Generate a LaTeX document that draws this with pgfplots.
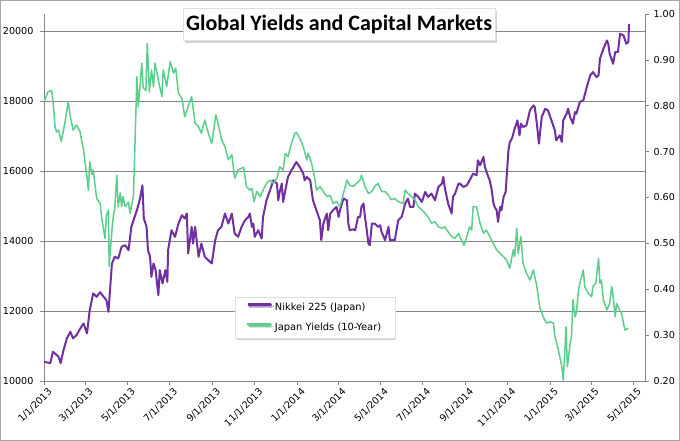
\documentclass[border=0pt]{standalone}
\usepackage{pgfplots}
\usepackage{pgfplotstable}
\pgfplotsset{compat=1.18}
\usepackage{fontspec}
\setmainfont{DejaVu Sans}
\newfontfamily\titlefont{Carlito}
\usetikzlibrary{shadows}
\definecolor{nikkei}{RGB}{112,48,160}
\definecolor{jgb}{RGB}{92,206,140}
\definecolor{axisgray}{RGB}{134,134,134}

\pgfplotstableread{
day val
0 10551
9 10510
13 10837
21 10694
24 10510
28 10870
33 11219
38 11410
42 11219
47 11314
52 11490
57 11648
62 11362
66 12029
71 12505
76 12410
81 12540
86 12410
90 12314
93 11981
98 13362
102 13552
107 13505
112 13838
117 13886
122 13743
126 14410
134 14886
138 15171
142 15600
144 14648
148 14410
150 13743
153 13552
155 12981
158 13362
161 13171
165 12457
167 13171
171 12790
175 13171
178 12838
179 13743
184 14314
189 14124
194 14505
199 14743
203 14648
206 14790
208 13648
213 14410
215 13933
218 14410
223 13552
227 13933
232 13552
237 13457
242 13362
247 14029
251 14314
256 14410
261 14790
266 14505
271 14790
275 14219
280 14124
285 14410
290 14600
295 14695
297 14790
300 14410
302 14505
304 14124
309 14314
314 14076
316 14695
321 15171
326 15457
331 15743
336 15648
338 15171
340 15410
343 15648
345 15124
350 15648
352 15838
357 16029
360 16124
364 16267
369 16124
374 15933
376 15743
379 15838
384 15743
388 15171
393 14886
398 14600
400 14029
403 14505
408 14790
410 14314
413 14790
417 14886
422 14981
425 14695
427 14886
432 15219
437 15171
439 14505
441 14314
446 14340
449 14314
451 14505
453 14695
456 14695
458 14981
461 15076
463 14695
465 14410
468 13933
470 13886
473 14505
477 14505
482 14410
485 14457
487 14267
492 14029
497 14410
499 14029
501 14029
506 14029
511 14600
516 14695
521 15076
525 15219
528 14981
533 14981
535 15362
540 15267
545 15124
550 15410
554 15267
559 15362
564 15171
569 15552
574 15648
576 15838
578 15552
583 15076
588 14790
590 15267
593 15362
598 15648
600 15648
605 15552
610 15600
614 15743
619 15933
624 15886
626 16314
629 16171
634 16410
636 16124
641 15838
643 15743
646 15457
648 15124
650 14981
653 14886
655 14552
658 14981
660 14886
663 15267
666 15410
670 16600
672 16838
675 16933
679 17219
683 17457
686 17029
688 17362
691 17267
696 17314
701 17743
706 17886
708 17838
711 17362
714 16791
718 17552
723 17790
727 17743
732 17457
737 17171
739 16886
744 17029
747 16838
749 17457
754 17648
756 17790
759 17552
763 17362
766 17695
768 17648
773 17981
778 18029
783 18410
788 18743
792 18838
797 18695
800 18743
802 19219
807 19505
812 19743
814 19648
816 19362
821 19076
824 19410
828 19410
831 19933
836 19886
840 19648
843 19695
844 20219
}\nikkeidata

\pgfplotstableread{
day val
0 0.809
6 0.831
11 0.833
13 0.810
16 0.754
18 0.743
21 0.747
25 0.722
30 0.762
35 0.809
38 0.776
42 0.747
47 0.758
52 0.743
57 0.704
62 0.645
64 0.616
66 0.678
69 0.650
71 0.660
76 0.598
81 0.587
83 0.558
88 0.511
90 0.560
93 0.573
94 0.450
98 0.529
100 0.560
102 0.573
105 0.649
107 0.580
110 0.610
112 0.580
114 0.602
117 0.580
122 0.590
124 0.565
129 0.602
131 0.704
134 0.863
136 0.798
138 0.833
141 0.893
143 0.840
147 0.833
149 0.936
152 0.830
155 0.878
158 0.842
160 0.893
165 0.856
170 0.820
172 0.878
177 0.842
182 0.896
187 0.871
190 0.882
194 0.827
199 0.816
203 0.776
208 0.798
213 0.820
218 0.762
223 0.754
227 0.740
232 0.769
237 0.740
242 0.718
248 0.780
251 0.762
256 0.727
261 0.711
266 0.682
271 0.693
275 0.642
280 0.660
288 0.666
292 0.624
297 0.616
300 0.620
303 0.591
307 0.613
312 0.602
316 0.616
321 0.631
326 0.638
331 0.631
336 0.642
340 0.667
345 0.660
348 0.696
352 0.689
357 0.718
362 0.740
364 0.742
369 0.729
374 0.711
379 0.682
381 0.696
386 0.675
391 0.638
393 0.616
398 0.624
403 0.613
408 0.602
413 0.605
417 0.587
422 0.591
427 0.580
432 0.609
437 0.638
441 0.627
446 0.624
451 0.631
456 0.638
458 0.649
463 0.624
468 0.609
473 0.613
477 0.624
482 0.631
487 0.613
492 0.613
497 0.605
501 0.595
506 0.598
511 0.591
518 0.587
521 0.616
525 0.609
530 0.602
535 0.595
540 0.580
545 0.573
550 0.565
554 0.558
559 0.544
564 0.547
569 0.536
574 0.533
578 0.536
583 0.525
588 0.515
593 0.511
598 0.522
602 0.507
606 0.496
610 0.515
614 0.536
617 0.529
619 0.580
624 0.580
629 0.544
634 0.522
638 0.529
643 0.515
648 0.500
653 0.486
658 0.478
663 0.471
667 0.464
672 0.446
677 0.486
679 0.471
682 0.533
684 0.478
688 0.515
691 0.457
696 0.435
701 0.420
706 0.442
711 0.406
715 0.362
720 0.340
725 0.326
730 0.329
735 0.326
737 0.297
742 0.268
747 0.231
749 0.202
751 0.253
753 0.318
755 0.231
759 0.282
761 0.297
763 0.377
766 0.340
768 0.348
771 0.398
773 0.413
778 0.442
780 0.406
785 0.391
790 0.384
792 0.406
796 0.413
800 0.467
802 0.413
804 0.420
807 0.377
812 0.355
816 0.369
819 0.406
821 0.384
824 0.340
826 0.369
828 0.362
833 0.348
838 0.311
843 0.315
}\jgbdata

\pgfplotsset{
  common/.style={
    at={(44pt,60pt)}, anchor=south west,
    scale only axis, width=601pt, height=367pt,
    xmin=0, xmax=867,
    tick align=outside, major tick length=4pt,
    axis line style={axisgray, line width=0.75pt},
    tick style={axisgray, line width=0.75pt},
    tick label style={font=\fontsize{9.6}{11}\selectfont, text=black},
    /pgf/number format/assume math mode=true,
  }
}

\begin{document}
\begin{tikzpicture}[x=1pt,y=1pt]
\useasboundingbox (0,0) rectangle (680,441);
\fill[white] (0,0) rectangle (680,441);
\begin{axis}[common,
  ymin=10000, ymax=20500,
  scaled y ticks=false,
  axis x line*=bottom, axis y line*=left,
  xtick={0,59,120,181,243,304,365,424,485,546,608,669,730,789,850},
  xticklabels={1/1/2013,3/1/2013,5/1/2013,7/1/2013,9/1/2013,11/1/2013,1/1/2014,3/1/2014,5/1/2014,7/1/2014,9/1/2014,11/1/2014,1/1/2015,3/1/2015,5/1/2015},
  xticklabel style={rotate=45, anchor=north east, inner sep=1pt, yshift=-3pt, xshift=2pt},
  ytick={10000,12000,14000,16000,18000,20000},
  yticklabel style={/pgf/number format/1000 sep={}, xshift=-3pt},
  ymajorgrids, grid style={axisgray, line width=0.75pt},
]
\addplot[nikkei, line width=2pt, line join=round] table[x=day,y=val]{\nikkeidata};
\end{axis}
\begin{axis}[common,
  ymin=0.2, ymax=1.0,
  axis x line=none, axis y line*=right,
  ytick={0.2,0.3,0.4,0.5,0.6,0.7,0.8,0.9,1.0},
  yticklabel style={/pgf/number format/fixed, /pgf/number format/fixed zerofill, /pgf/number format/precision=2, xshift=1pt},
  legend style={at={(0.3178,0.2289)}, anchor=north west, draw=gray!25, fill=white,
    drop shadow={shadow xshift=1.5pt, shadow yshift=-2pt, opacity=0.35},
    font=\fontsize{9.9}{11}\selectfont, inner xsep=12pt, inner ysep=4pt, row sep=7pt,
    nodes={inner xsep=1.7pt, inner ysep=2pt}},
  legend cell align=left,
  legend image code/.code={\path (0pt,3.4pt) -- (24.5pt,3.4pt);\fill[#1] (0pt,2.6pt) rectangle (22pt,4.2pt);},
]
\addlegendimage{nikkei}
\addlegendentry{Nikkei 225 (Japan)}
\addplot[jgb, line width=1.5pt, line join=round] table[x=day,y=val]{\jgbdata};
\addlegendentry{Japan Yields (10-Year)}
\end{axis}
\node[draw=gray!25, fill=white, drop shadow={shadow xshift=2pt, shadow yshift=-2.5pt, opacity=0.35},
  inner xsep=3pt, inner ysep=2pt, minimum height=32pt,
  font=\titlefont\bfseries\fontsize{22}{24}\selectfont] at (339,416.5) {Global Yields and Capital Markets};
\draw[gray!70, line width=0.8pt] (0.4,0.4) rectangle (679.6,440.6);
\end{tikzpicture}
\end{document}
